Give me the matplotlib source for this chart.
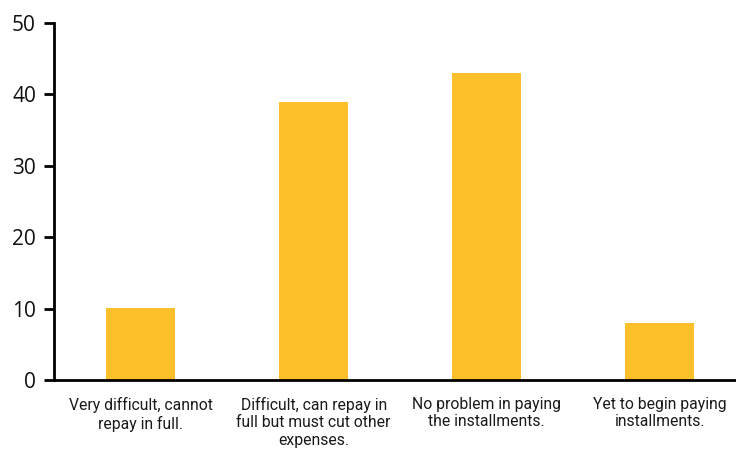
import matplotlib
matplotlib.use("Agg")
import matplotlib.pyplot as plt

categories = [
    "Very difficult, cannot\nrepay in full.",
    "Difficult, can repay in\nfull but must cut other\nexpenses.",
    "No problem in paying\nthe installments.",
    "Yet to begin paying\ninstallments.",
]
values = [10.1, 39, 43, 8]
yticks = [0, 10, 20, 30, 40, 50]

plt.rcParams["font.family"] = ["Open Sans", "DejaVu Sans"]

fig = plt.figure(figsize=(7.36, 4.51), dpi=100)
ax = fig.add_axes([54 / 736, 1 - 380 / 451, (736 - 54) / 736, (380 - 23) / 451])

x = list(range(len(categories)))
ax.bar(x, values, width=0.4, color="#FDBF2A")

ax.set_xlim(-0.5, 3.44)
ax.set_ylim(0, 50)
ax.set_yticks(yticks)
ax.set_yticklabels([str(t) for t in yticks], fontsize=15, color="#111111")
ax.set_xticks(x)
ax.set_xticklabels(categories, fontsize=11.3, linespacing=1.22,
                   family=["Roboto", "DejaVu Sans"], color="#1a1a1a")

for s in ["top", "right"]:
    ax.spines[s].set_visible(False)
for s in ["left", "bottom"]:
    ax.spines[s].set_linewidth(2)
    ax.spines[s].set_color("black")

ax.tick_params(axis="y", length=7, width=2, direction="out", pad=6)
ax.tick_params(axis="x", length=0, pad=12)

fig.savefig("out.png", dpi=100)
